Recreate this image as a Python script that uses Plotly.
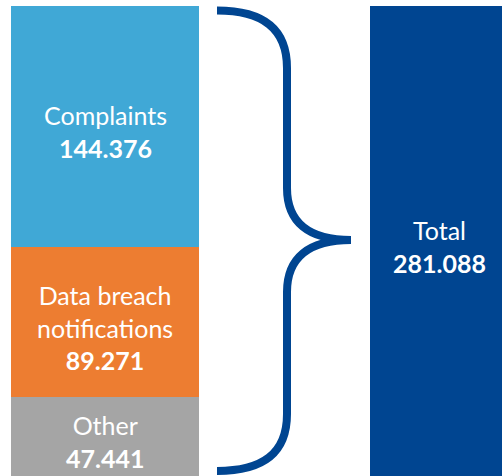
import plotly.graph_objects as go

categories = ["Complaints", "Data breach<br>notifications", "Other"]
values = [144376, 89271, 47441]
colors = ["#40A8D6", "#ED7D31", "#A5A5A5"]
total_label = "Total"
total_value = sum(values)
total_color = "#004591"


def fmt(v):
    return f"{v:,.0f}".replace(",", ".")


W, H = 502, 476
MT = 6
bar_w = 0.5237
x_range = [-0.2925, 1.1058]
FONT = dict(family="Lato", size=25, color="white")

fig = go.Figure()
# stack bottom-up: Other, Data breach, Complaints
for cat, val, col in reversed(list(zip(categories, values, colors))):
    fig.add_trace(go.Bar(x=[0], y=[val], marker=dict(color=col, line=dict(width=0)),
                         width=bar_w, name=cat, hoverinfo="skip"))
fig.add_trace(go.Bar(x=[1], y=[total_value], marker=dict(color=total_color, line=dict(width=0)),
                     width=bar_w, name=total_label, hoverinfo="skip"))

# labels inside the segments
annotations = []
base = total_value
for cat, val in zip(categories, values):
    mid = base - val / 2
    base -= val
    annotations.append(dict(x=0, y=mid, xref="x", yref="y", showarrow=False,
                            text=f"{cat}<br><b>{fmt(val)}</b>", font=FONT,
                            align="center", yanchor="middle", yshift=-5))
# total label centred on the visible part of the total bar
annotations.append(dict(x=1, y=total_value / 2, xref="x", yref="y", showarrow=False,
                        text=f"{total_label}<br><b>{fmt(total_value)}</b>", font=FONT,
                        align="center", yanchor="middle", yshift=-5, xshift=-25))

# brace between the bars, built from pixel geometry converted to data coords
plot_h = H - MT
sx = (x_range[1] - x_range[0]) / W


def px_x(p):
    return x_range[0] + p * sx


def px_y(p):
    return total_value * (H - p) / plot_h


pts = [
    ("M", [(217, 10.5)]),
    ("C", [(262, 10.5), (287, 28), (287, 68)]),
    ("L", [(287, 188)]),
    ("C", [(287, 222), (308, 240), (351, 240)]),
    ("C", [(308, 240), (287, 258), (287, 292)]),
    ("L", [(287, 414)]),
    ("C", [(287, 454), (262, 471), (217, 471)]),
]
path = " ".join(cmd + " " + " ".join(f"{px_x(a):.5f},{px_y(b):.2f}" for a, b in p) for cmd, p in pts)

fig.add_shape(type="path", path=path, xref="x", yref="y",
              line=dict(color=total_color, width=8))

fig.update_layout(
    barmode="stack",
    width=W, height=H,
    margin=dict(l=0, r=0, t=MT, b=0),
    paper_bgcolor="white", plot_bgcolor="white",
    showlegend=False,
    bargap=0,
    xaxis=dict(range=x_range, visible=False, fixedrange=True),
    yaxis=dict(range=[0, total_value], visible=False, fixedrange=True),
    annotations=annotations,
)

fig.write_html("out.html", config={"displayModeBar": False},
               post_script="document.body.style.margin='0';document.body.style.overflow='hidden';")
